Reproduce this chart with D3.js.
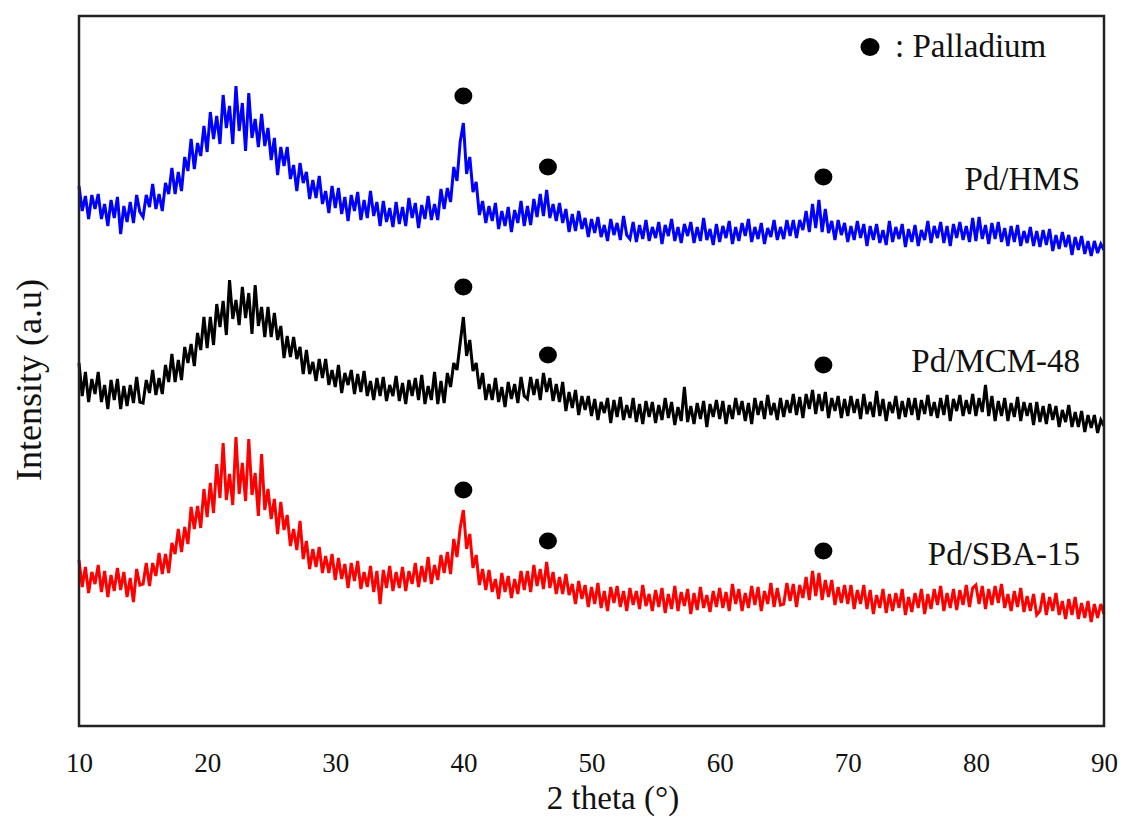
<!DOCTYPE html>
<html>
<head>
<meta charset="utf-8">
<script src="https://cdn.jsdelivr.net/npm/d3@7"></script>
<style>
  body { margin: 0; background: #fff; }
  svg { display: block; }
  text { font-family: "Liberation Serif", "Times New Roman", serif; fill: #111; }
</style>
</head>
<body>
<div id="chart"></div>
<script>
// XRD patterns, 2 theta from 10 to 90 deg in 0.25 deg steps
var thetaStart = 10
var thetaStep = 0.25

var hmsIntensity = [
  540,515,530,507,531,517,532,507,522,500,526,508,529,492,520,504,524,503,531,514,
  509,531,519,542,517,532,515,543,532,558,532,554,535,569,555,587,557,583,570,600,
  574,614,587,610,582,631,598,620,582,640,595,623,575,633,588,607,579,612,580,598,
  566,588,551,579,560,579,547,561,535,563,543,554,527,546,528,550,522,535,513,540,
  518,538,512,529,505,531,515,534,506,526,508,535,510,524,500,525,504,518,499,524,
  502,519,500,528,508,523,498,521,507,530,506,522,506,537,517,538,524,559,545,584,
  603,552,569,534,544,511,525,503,520,505,523,497,515,500,519,494,516,503,525,500,
  520,501,527,509,532,510,536,508,522,505,523,503,517,494,512,495,515,497,508,489,
  507,493,509,489,501,485,507,491,503,486,510,491,487,504,484,501,487,506,485,499,
  488,504,482,501,490,507,485,499,483,502,490,504,483,499,485,508,486,497,481,502,
  484,500,488,505,482,499,485,503,490,507,484,499,487,503,482,498,489,506,486,499,
  487,506,490,506,488,506,496,515,494,522,498,526,494,517,493,505,486,506,491,503,
  484,500,486,505,488,502,480,500,486,502,483,496,481,505,484,499,487,502,479,497,
  484,501,480,496,486,505,483,500,488,504,483,500,480,502,488,504,486,500,484,508,
  485,509,487,501,482,503,487,504,484,498,480,500,484,501,480,495,483,499,480,495,
  479,496,481,497,475,491,477,494,479,491,471,489,476,490,472,485,470,485,473,482,
  476
]

var mcmIntensity = [
  363,330,354,324,347,332,354,324,341,317,346,326,347,317,340,320,341,323,349,324,
  323,346,333,356,331,348,332,361,344,372,344,366,346,379,363,382,360,393,376,409,
  378,409,381,422,399,425,391,446,407,426,401,439,408,433,392,441,400,419,389,419,
  389,413,386,400,368,390,369,389,367,379,352,376,352,364,345,367,348,367,341,356,
  339,361,333,353,341,356,332,352,334,355,330,345,326,348,330,349,325,341,330,350,
  325,343,322,346,330,348,326,351,322,340,326,354,322,345,323,353,339,363,356,383,
  409,370,386,355,363,337,353,326,342,326,348,324,339,319,344,327,342,323,349,330,
  327,349,331,347,326,353,334,348,325,342,324,344,315,334,318,336,311,330,316,330,
  310,327,306,324,313,328,303,326,309,329,306,321,308,328,304,322,302,325,309,324,
  303,321,306,328,308,324,301,319,305,339,304,320,302,323,307,325,299,322,309,326,
  307,325,302,321,307,328,311,325,305,323,302,328,311,325,307,331,311,323,306,328,
  309,326,313,332,311,329,308,332,317,336,312,332,315,334,308,328,315,330,308,327,
  310,330,313,327,307,332,312,324,309,335,310,327,305,324,313,330,307,325,309,328,
  311,328,306,326,312,331,310,324,308,328,311,331,305,327,315,331,310,326,312,332,
  310,328,314,341,310,330,305,325,310,328,305,323,309,329,305,324,310,323,301,324,
  304,320,302,322,306,320,299,316,304,321,299,314,299,315,294,311,298,311,293,306,
  300
]

var sbaIntensity = [
  166,139,159,133,154,142,161,134,155,129,151,135,158,136,154,129,148,124,157,141,
  142,163,140,163,150,173,152,172,153,183,172,197,174,199,182,219,197,220,198,237,
  209,243,213,262,228,283,226,252,221,289,232,263,225,287,231,253,210,272,216,237,
  207,227,192,224,196,211,180,197,176,205,167,185,157,177,159,179,153,170,153,172,
  146,168,147,162,138,163,145,165,137,154,139,160,134,155,122,156,138,160,135,154,
  138,159,135,155,142,163,139,160,144,169,142,161,146,171,153,174,152,187,169,198,
  216,177,192,158,171,141,157,136,156,134,147,127,153,134,150,128,147,132,155,136,
  155,134,161,140,157,137,164,138,154,132,149,132,152,131,142,122,145,127,141,119,
  139,122,143,118,135,115,139,123,140,119,135,115,138,121,135,117,141,120,132,115,
  136,119,138,113,132,117,140,115,134,120,137,112,133,116,139,118,131,114,135,119,
  138,118,134,115,142,122,137,115,133,118,140,121,139,115,135,122,143,119,138,121,
  122,143,125,142,119,141,128,149,126,155,130,153,126,146,129,146,121,139,123,141,
  122,141,117,136,122,141,117,136,112,131,118,137,113,132,115,133,118,137,111,129,
  114,133,118,137,112,132,117,137,121,140,115,133,118,137,116,136,121,141,119,138,
  141,122,140,117,137,121,140,123,142,118,132,115,135,119,138,114,130,115,132,111,
  115,133,111,129,115,133,111,125,107,127,111,129,107,123,108,125,104,122,108,122,
  112
]

var seriesNames = ["Pd/HMS", "Pd/MCM-48", "Pd/SBA-15"]
var seriesColors = ["#0000ff", "#000000", "#ff0000"]
var seriesLabelLevel = [536, 354, 161]

// palladium reflections marked above each pattern
var pdTheta = [40.0, 46.6, 68.1]
var pdMarkHms = [630, 559, 549]
var pdMarkMcm = [439, 371, 361]
var pdMarkSba = [236, 185, 175]

var xTicks = [10, 20, 30, 40, 50, 60, 70, 80, 90]

function init() {
    var w = 1129
    var h = 819
    var left = 79, right = 1104, top = 16, bottom = 726

    var svg = d3.select("#chart")
                .append("svg")
                .attr("width", w)
                .attr("height", h)

    var x = d3.scaleLinear().domain([10, 90]).range([left, right])
    var y = d3.scaleLinear().domain([0, 710]).range([bottom, top])

    var all = [hmsIntensity, mcmIntensity, sbaIntensity]
    var marks = [pdMarkHms, pdMarkMcm, pdMarkSba]

    var line = d3.line()
        .x((d, i) => x(thetaStart + i * thetaStep))
        .y(d => y(d))

    all.forEach((s, k) => {
        svg.append("path")
            .datum(s)
            .attr("d", line)
            .attr("fill", "none")
            .attr("stroke", seriesColors[k])
            .attr("stroke-width", 3)
            .attr("stroke-linejoin", "miter")
            .attr("stroke-miterlimit", 3)
    })

    // marker dots
    marks.forEach(m => {
        svg.selectAll(null)
            .data(m)
            .enter()
            .append("ellipse")
            .attr("cx", (d, i) => x(pdTheta[i]))
            .attr("cy", d => y(d))
            .attr("rx", 9)
            .attr("ry", 8.5)
            .attr("fill", "#000")
    })

    // series labels
    svg.selectAll(".lab")
        .data(seriesNames)
        .enter()
        .append("text")
        .attr("class", "lab")
        .attr("x", 1080)
        .attr("y", (d, i) => y(seriesLabelLevel[i]))
        .attr("text-anchor", "end")
        .style("font-size", "33px")
        .text(d => d)

    // legend
    svg.append("ellipse")
        .attr("cx", 870).attr("cy", 47)
        .attr("rx", 9.5).attr("ry", 9)
        .attr("fill", "#000")
    svg.append("text")
        .attr("x", 895).attr("y", 57)
        .style("font-size", "33px")
        .text(": Palladium")

    // frame
    svg.append("rect")
        .attr("x", left).attr("y", top)
        .attr("width", right - left).attr("height", bottom - top)
        .attr("fill", "none")
        .attr("stroke", "#222")
        .attr("stroke-width", 2.5)

    var xAxis = svg.append("g")
        .attr("transform", `translate(0, ${bottom})`)
        .call(d3.axisBottom(x).tickValues(xTicks).tickSize(0).tickPadding(27))
    xAxis.select(".domain").remove()
    xAxis.selectAll("text")
        .style("font-size", "27px")
        .style("font-family", "'Liberation Serif', 'Times New Roman', serif")
        .attr("fill", "#222")

    svg.append("text")
        .attr("x", 613).attr("y", 809)
        .attr("text-anchor", "middle")
        .style("font-size", "33px")
        .text("2 theta (°)")

    svg.append("text")
        .attr("transform", "translate(41, 380) rotate(-90)")
        .attr("text-anchor", "middle")
        .style("font-size", "36px")
        .text("Intensity (a.u)")
}

window.onload = init;
</script>
</body>
</html>
